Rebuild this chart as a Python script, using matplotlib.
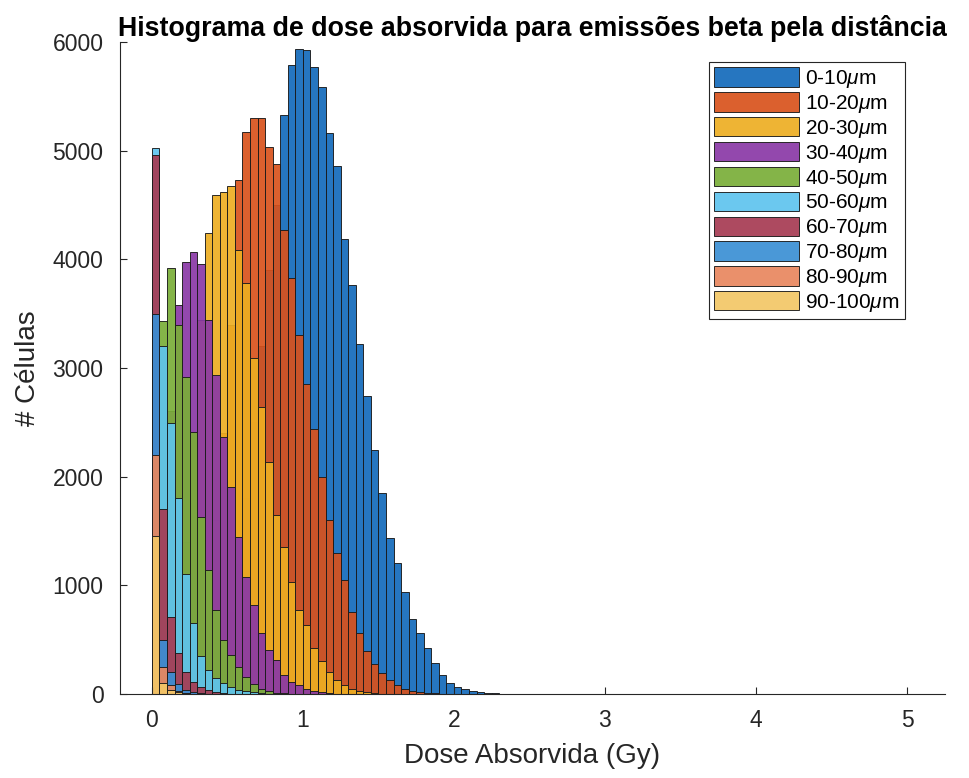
import numpy as np
import matplotlib
matplotlib.use('Agg')
import matplotlib.pyplot as plt

plt.rcParams['font.family'] = ['Liberation Sans', 'DejaVu Sans']
plt.rcParams['mathtext.fontset'] = 'custom'
plt.rcParams['mathtext.it'] = 'Liberation Sans:italic'

# histogram counts per distance range, bins of 0.05 Gy starting at 0
bin_width = 0.05
labels = ['0-10$\\mu$m', '10-20$\\mu$m', '20-30$\\mu$m', '30-40$\\mu$m', '40-50$\\mu$m',
          '50-60$\\mu$m', '60-70$\\mu$m', '70-80$\\mu$m', '80-90$\\mu$m', '90-100$\\mu$m']
colors = ['#136abb', '#d8521c', '#edae22', '#8a38a6', '#7aae38',
          '#5ec4ee', '#a63a52', '#3a8fd4', '#e9875e', '#f3c766']

c_0_10 = [0, 0, 0, 0, 5, 15, 45, 100, 220, 420, 750, 1200, 1800, 2500, 3200, 3900,
          4500, 5330, 5790, 5940, 5930, 5770, 5590, 5160, 4860, 4190, 3760, 3220,
          2740, 2245, 1850, 1435, 1205, 940, 690, 560, 420, 285, 175, 100, 65, 50,
          30, 20, 10, 5, 3, 2, 1]
c_10_20 = [0, 5, 20, 60, 150, 320, 600, 1000, 1600, 2400, 3400, 4730, 5170, 5300,
           5300, 5035, 4880, 4270, 3825, 3300, 2850, 2440, 2000, 1600, 1300, 1050,
           757, 561, 400, 280, 190, 125, 80, 50, 30, 18, 10, 5, 2]
c_20_30 = [30, 100, 300, 700, 1400, 2400, 3440, 4240, 4590, 4620, 4673, 4085, 3780,
           3090, 2640, 2137, 1647, 1355, 1033, 773, 635, 423, 300, 200, 130, 80, 50,
           30, 15, 8, 4]
c_30_40 = [600, 1500, 2600, 3578, 3977, 4070, 3956, 3440, 2935, 2361, 1907, 1447,
           1080, 819, 558, 405, 313, 175, 113, 80, 50, 30, 15, 8, 3]
c_40_50 = [2600, 3430, 3920, 3400, 2920, 2413, 1630, 1140, 773, 497, 359, 250, 156,
           90, 50, 25, 12, 5]
c_50_60 = [5020, 3200, 2490, 1800, 1100, 650, 350, 220, 150, 100, 60, 40, 25, 15, 6]
c_60_70 = [4960, 1700, 711, 375, 200, 110, 60, 35, 20, 10, 4]
c_70_80 = [3500, 500, 200, 90, 40, 20, 10, 4]
c_80_90 = [2200, 250, 80, 30, 10, 4]
c_90_100 = [1450, 100, 40, 15, 5, 2]

series = [c_0_10, c_10_20, c_20_30, c_30_40, c_40_50,
          c_50_60, c_60_70, c_70_80, c_80_90, c_90_100]

fig = plt.figure(figsize=(9.69, 7.78), dpi=100)
ax = fig.add_axes([0.124, 0.108, 0.851, 0.838])

for counts, color, label in zip(series, colors, labels):
    left = np.arange(len(counts)) * bin_width
    ax.bar(left, counts, width=bin_width, align='edge', color=color, alpha=0.92,
           edgecolor='#1a1a1a', linewidth=0.7, label=label)

ax.set_xlim(-0.21, 5.25)
ax.set_ylim(0, 6000)
ax.set_xticks([0, 1, 2, 3, 4, 5])
ax.set_yticks([0, 1000, 2000, 3000, 4000, 5000, 6000])
ax.spines['top'].set_visible(False)
ax.spines['right'].set_visible(False)
for s in ['left', 'bottom']:
    ax.spines[s].set_color('#262626')
ax.tick_params(direction='in', length=5, labelsize=16.5, colors='#262626')
ax.tick_params(axis='y', pad=12)
ax.tick_params(axis='x', pad=11)

ax.set_xlabel('Dose Absorvida (Gy)', fontsize=20, color='#262626', labelpad=8)
ax.set_ylabel('# Células', fontsize=20, color='#262626', labelpad=8)
ax.set_title('Histograma de dose absorvida para emissões beta pela distância',
             fontsize=19.3, fontweight='bold', pad=2)

leg = ax.legend(loc='upper right', bbox_to_anchor=(0.952, 0.969), borderaxespad=0,
                fontsize=15, fancybox=False, edgecolor='#262626', framealpha=1,
                handlelength=4.1, handleheight=1.05, labelspacing=0.1,
                handletextpad=0.3, borderpad=0.25)
leg.get_frame().set_linewidth(0.8)

plt.savefig('out.png', dpi=100)
